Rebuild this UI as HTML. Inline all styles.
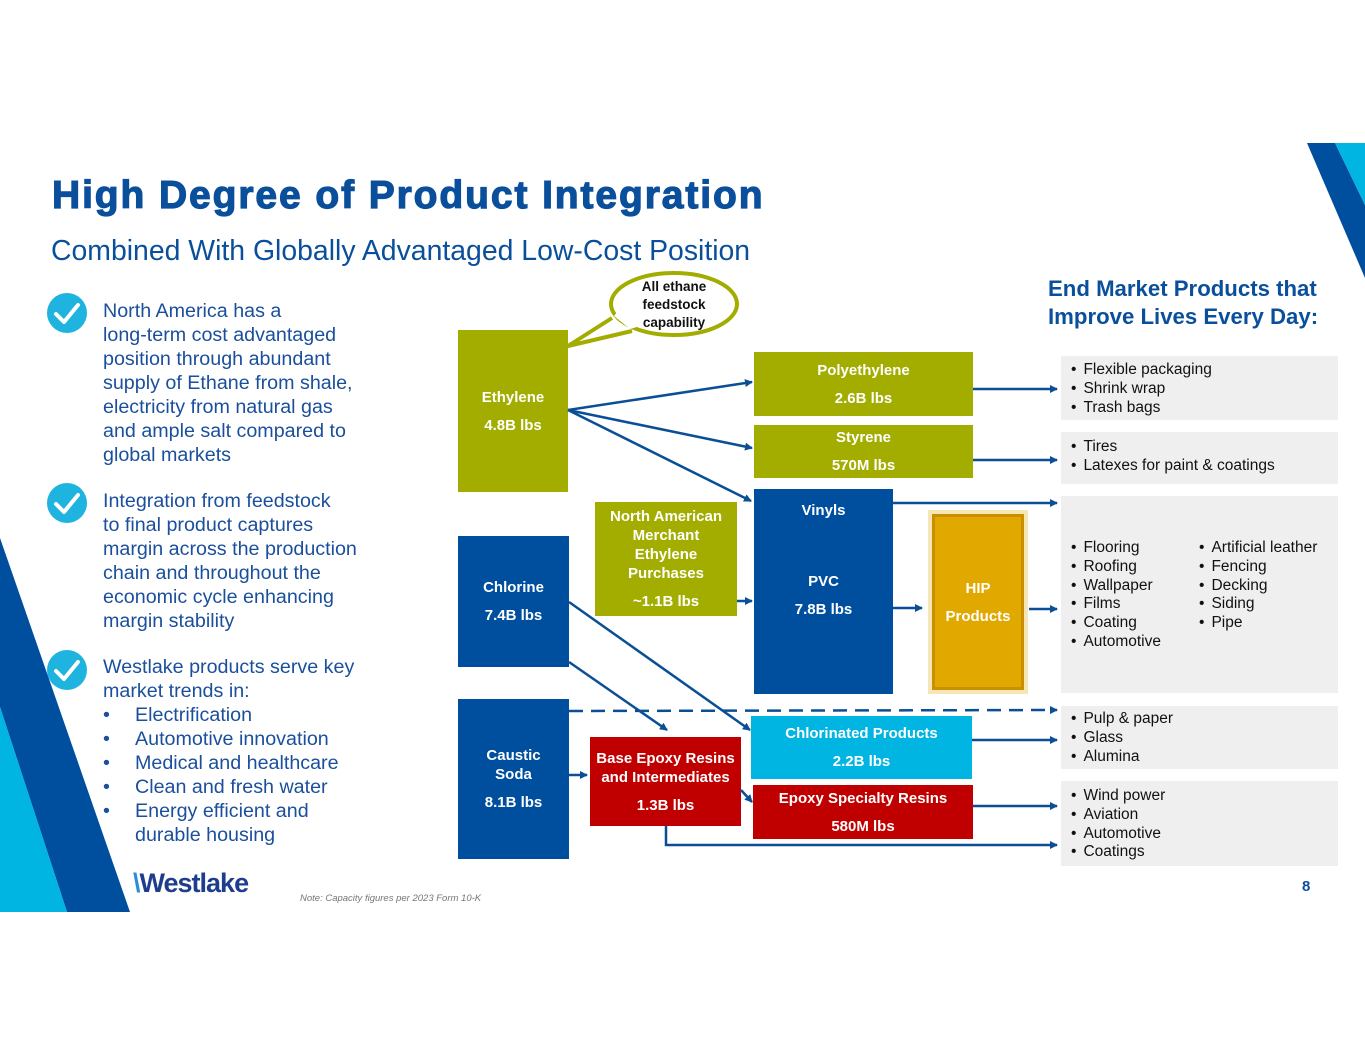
<!DOCTYPE html>
<html><head><meta charset="utf-8">
<style>
html,body{margin:0;padding:0;background:#fff;}
body{width:1365px;height:1055px;position:relative;overflow:hidden;font-family:"Liberation Sans",Arial,sans-serif;}
.a{position:absolute;}
.box{position:absolute;color:#fff;font-weight:bold;font-size:15px;text-align:center;display:flex;flex-direction:column;justify-content:center;align-items:center;line-height:19px;}
.sp{height:9px;}
.olive{background:#a2ad00;}
.dblue{background:#004f9f;}
.lblue{background:#00b5e2;}
.red{background:#c00000;}
.gray{position:absolute;background:#efefef;color:#111;font-size:15.5px;line-height:18.8px;}
.gray ul{margin:0;padding:0;list-style:none;}
.gray li:before{content:"•";margin-right:7px;}
.txt{color:#1a4f9c;font-size:19.7px;line-height:24px;white-space:nowrap;}
.chk{position:absolute;width:40px;height:40px;border-radius:50%;background:#1fb3e0;}
</style></head><body>
<svg class="a" style="left:0;top:0" width="1365" height="1055">
  <polygon points="1307,143 1335,143 1365,205 1365,278" fill="#004f9f"/>
  <polygon points="1335,143 1365,143 1365,205" fill="#00b5e2"/>
  <polygon points="0,538 130,912 67,912 0,707" fill="#004f9f"/>
  <polygon points="0,707 67,912 0,912" fill="#00b5e2"/>
  <ellipse cx="674" cy="304" rx="63" ry="31" fill="#fff" stroke="#a2ad00" stroke-width="4"/>
  <path d="M612,318 L568,346 L632,331" fill="#fff" stroke="#a2ad00" stroke-width="4" stroke-linejoin="round"/>
  <path d="M614,316 L630,329 L640,326 L618,311 z" fill="#fff"/>
  <rect x="928" y="510" width="100" height="184" fill="#f7e6b5"/>
</svg>
<div class="a" style="left:52px;top:174px;font-size:39px;font-weight:bold;color:#0a4f9c;letter-spacing:1.9px;-webkit-text-stroke:1.2px #0a4f9c;white-space:nowrap;">High Degree of Product Integration</div>
<div class="a" style="left:51px;top:235px;font-size:28.4px;color:#0a4f9c;white-space:nowrap;">Combined With Globally Advantaged Low-Cost Position</div>

<div class="a" style="left:638px;top:278px;width:72px;text-align:center;font-size:13.5px;font-weight:bold;line-height:18px;color:#111;">All ethane feedstock capability</div>

<div class="chk" style="left:47px;top:293px"></div>
<div class="chk" style="left:47px;top:483px"></div>
<div class="chk" style="left:47px;top:650px"></div>
<svg class="a" style="left:0;top:0" width="120" height="700">
 <g fill="none" stroke="#fff" stroke-width="4" stroke-linecap="round" stroke-linejoin="round">
  <path d="M56,314 L64,322 L78,305"/>
  <path d="M56,504 L64,512 L78,495"/>
  <path d="M56,671 L64,679 L78,662"/>
 </g>
</svg>
<div class="a txt" style="left:103px;top:299px;">North America has a<br>long-term cost advantaged<br>position through abundant<br>supply of Ethane from shale,<br>electricity from natural gas<br>and ample salt compared to<br>global markets</div>
<div class="a txt" style="left:103px;top:489px;">Integration from feedstock<br>to final product captures<br>margin across the production<br>chain and throughout the<br>economic cycle enhancing<br>margin stability</div>
<div class="a txt" style="left:103px;top:655px;">Westlake products serve key<br>market trends in:</div>
<div class="a txt" style="left:103px;top:703px;width:300px;">
<div>•<span style="position:absolute;left:32px">Electrification</span></div>
<div>•<span style="position:absolute;left:32px">Automotive innovation</span></div>
<div>•<span style="position:absolute;left:32px">Medical and healthcare</span></div>
<div>•<span style="position:absolute;left:32px">Clean and fresh water</span></div>
<div>•<span style="position:absolute;left:32px;white-space:nowrap">Energy efficient and</span></div>
<div>&nbsp;<span style="position:absolute;left:32px">durable housing</span></div>
</div>

<div class="a" style="left:133px;top:868px;font-size:27px;font-weight:bold;color:#1f3d8f;letter-spacing:-1px;"><span style="color:#2c8fd6">\</span>Westlake</div>
<div class="a" style="left:300px;top:893px;font-size:9.5px;font-style:italic;color:#777;">Note: Capacity figures per 2023 Form 10-K</div>
<div class="a" style="left:1302px;top:878px;font-size:15px;font-weight:bold;color:#0a4f9c;">8</div>

<div class="a" style="left:1048px;top:275px;font-size:22.2px;font-weight:bold;color:#0a4f9c;line-height:28px;white-space:nowrap;">End Market Products that<br>Improve Lives Every Day:</div>

<div class="box olive" style="left:458px;top:330px;width:110px;height:162px;">Ethylene<div class="sp"></div>4.8B lbs</div>
<div class="box dblue" style="left:458px;top:536px;width:111px;height:131px;">Chlorine<div class="sp"></div>7.4B lbs</div>
<div class="box dblue" style="left:458px;top:699px;width:111px;height:160px;">Caustic<br>Soda<div class="sp"></div>8.1B lbs</div>
<div class="box olive" style="left:754px;top:352px;width:219px;height:64px;">Polyethylene<div class="sp"></div>2.6B lbs</div>
<div class="box olive" style="left:754px;top:425px;width:219px;height:53px;">Styrene<div class="sp"></div>570M lbs</div>
<div class="box dblue" style="left:754px;top:489px;width:139px;height:205px;justify-content:flex-start;"><div style="margin-top:12px">Vinyls</div><div style="margin-top:52px">PVC<div class="sp"></div>7.8B lbs</div></div>
<div class="box olive" style="left:595px;top:502px;width:142px;height:114px;">North American<br>Merchant<br>Ethylene<br>Purchases<div class="sp"></div>~1.1B lbs</div>
<div class="box" style="left:932px;top:514px;width:92px;height:176px;background:#e1a800;box-shadow:inset 0 0 0 3px #c98f00;">HIP<div class="sp"></div>Products</div>
<div class="box lblue" style="left:751px;top:716px;width:221px;height:63px;">Chlorinated Products<div class="sp"></div>2.2B lbs</div>
<div class="box red" style="left:590px;top:737px;width:151px;height:89px;">Base Epoxy Resins<br>and Intermediates<div class="sp"></div>1.3B lbs</div>
<div class="box red" style="left:753px;top:785px;width:220px;height:54px;">Epoxy Specialty Resins<div class="sp"></div>580M lbs</div>

<div class="gray" style="left:1061px;top:356px;width:277px;height:64px;"><ul style="margin:5px 0 0 10px"><li>Flexible packaging</li><li>Shrink wrap</li><li>Trash bags</li></ul></div>
<div class="gray" style="left:1061px;top:432px;width:277px;height:52px;"><ul style="margin:6px 0 0 10px"><li>Tires</li><li>Latexes for paint &amp; coatings</li></ul></div>
<div class="gray" style="left:1061px;top:496px;width:277px;height:197px;">
<ul class="a" style="left:10px;top:43px"><li>Flooring</li><li>Roofing</li><li>Wallpaper</li><li>Films</li><li>Coating</li><li>Automotive</li></ul>
<ul class="a" style="left:138px;top:43px"><li>Artificial leather</li><li>Fencing</li><li>Decking</li><li>Siding</li><li>Pipe</li></ul></div>
<div class="gray" style="left:1061px;top:706px;width:277px;height:63px;"><ul style="margin:4px 0 0 10px"><li>Pulp &amp; paper</li><li>Glass</li><li>Alumina</li></ul></div>
<div class="gray" style="left:1061px;top:781px;width:277px;height:85px;"><ul style="margin:6px 0 0 10px"><li>Wind power</li><li>Aviation</li><li>Automotive</li><li>Coatings</li></ul></div>

<svg class="a" style="left:0;top:0" width="1365" height="1055">
<defs><marker id="ar" markerWidth="8" markerHeight="8" refX="7" refY="4" orient="auto" markerUnits="userSpaceOnUse"><path d="M0,0 L8,4 L0,8 z" fill="#0a4f96"/></marker></defs>
<g stroke="#0a4f96" stroke-width="2.5" fill="none" marker-end="url(#ar)">
<line x1="568" y1="410" x2="752" y2="382"/>
<line x1="568" y1="410" x2="752" y2="448"/>
<line x1="568" y1="410" x2="751" y2="501"/>
<line x1="973" y1="389" x2="1057" y2="389"/>
<line x1="973" y1="460" x2="1057" y2="460"/>
<line x1="893" y1="503" x2="1057" y2="503"/>
<line x1="893" y1="608" x2="922" y2="608"/>
<line x1="1029" y1="609" x2="1057" y2="609"/>
<line x1="737" y1="601" x2="752" y2="601"/>
<line x1="569" y1="602" x2="750" y2="730"/>
<line x1="569" y1="662" x2="667" y2="730"/>
<line x1="569" y1="711" x2="1057" y2="710" stroke-dasharray="14,8"/>
<line x1="569" y1="775" x2="587" y2="775"/>
<line x1="741" y1="790" x2="752" y2="802"/>
<line x1="972" y1="740" x2="1057" y2="740"/>
<line x1="973" y1="806" x2="1057" y2="806"/>
<polyline points="666,826 666,845 1057,845"/>
</g>
</svg>
</body></html>
